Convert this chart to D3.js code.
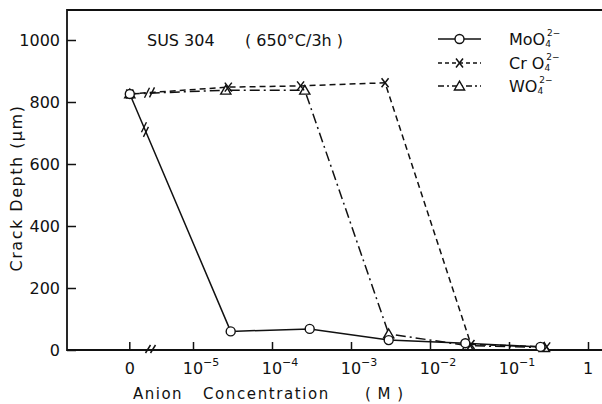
<!DOCTYPE html>
<html>
<head>
<meta charset="utf-8">
<script src="https://cdn.jsdelivr.net/npm/d3@7"></script>
<style>
  body { margin: 0; background: #fff; }
  text { font-family: "DejaVu Sans", sans-serif; fill: #111; }
</style>
</head>
<body>
<script>
var width = 602,
    height = 404;

// data (0 = no anion added)
var moConc  = [0, 3e-5, 3e-4, 3e-3, 2.8e-2, 2.5e-1],
    moDepth = [826, 60, 68, 32, 22, 10];
var crConc  = [0, 2.8e-5, 2.3e-4, 2.7e-3, 3.3e-2, 3e-1],
    crDepth = [826, 848, 852, 862, 18, 10];
var wConc   = [0, 2.6e-5, 2.6e-4, 3e-3, 3e-2, 2.8e-1],
    wDepth  = [826, 838, 838, 52, 14, 8];

var yTicks = [0, 200, 400, 600, 800, 1000];
var xTicks = [1e-5, 1e-4, 1e-3, 1e-2, 1e-1, 1];
var xExps  = [-5, -4, -3, -2, -1, 0];

var x = d3.scaleLog().domain([1e-5, 1]).range([193, 588]),
    y = d3.scaleLinear().domain([0, 1000]).range([350, 40]);
var zeroPos = x(Math.pow(10, -5.8));
function px(c) { return c === 0 ? zeroPos : x(c); }

var svg = d3.select('body').append('svg')
    .attr('width', width)
    .attr('height', height);

// frame
svg.append('path')
    .attr('d', 'M602,10H67V350H602')
    .attr('fill', 'none')
    .attr('stroke', '#111')
    .attr('stroke-width', 1.8);

// y axis, ticks inside
var gy = svg.append('g')
    .attr('transform', 'translate(67,0)')
    .call(d3.axisLeft(y).tickValues(yTicks).tickFormat(d3.format('d'))
        .tickSizeInner(-9).tickSizeOuter(0).tickPadding(7));
gy.select('.domain').remove();
gy.selectAll('line').attr('stroke', '#111').attr('stroke-width', 1.5);
gy.selectAll('text').style('font-size', '16px').style('font-family', '"DejaVu Sans", sans-serif').attr('fill', '#111');

// x axis, ticks inside
var gx = svg.append('g')
    .attr('transform', 'translate(0,350)')
    .call(d3.axisBottom(x).tickValues(xTicks).tickSizeInner(-8).tickSizeOuter(0).tickFormat(''));
gx.select('.domain').remove();
gx.selectAll('line').attr('stroke', '#111').attr('stroke-width', 1.5);

svg.append('line')
    .attr('x1', zeroPos).attr('x2', zeroPos)
    .attr('y1', 350).attr('y2', 342)
    .attr('stroke', '#111').attr('stroke-width', 1.5);

svg.append('text')
    .attr('x', zeroPos).attr('y', 374)
    .attr('text-anchor', 'middle')
    .style('font-size', '16px')
    .text('0');

xTicks.forEach(function(v, i) {
    var t = svg.append('text')
        .attr('x', x(v) + (xExps[i] === 0 ? 0 : 8))
        .attr('y', 374)
        .attr('text-anchor', 'middle')
        .style('font-size', '16px');
    if (xExps[i] === 0) { t.text('1'); return; }
    t.append('tspan').text('10');
    t.append('tspan').attr('dy', -8).style('font-size', '11px').text('\u2212' + (-xExps[i]));
});

// axis break
[148, 153].forEach(function(bx) {
    svg.append('line')
        .attr('x1', bx - 2.5).attr('y1', 353)
        .attr('x2', bx + 2.5).attr('y2', 345)
        .attr('stroke', '#111').attr('stroke-width', 1.5);
});

var series = [
    {conc: moConc, depth: moDepth, dash: null, mark: 'circle', brk: 0.15},
    {conc: crConc, depth: crDepth, dash: '6,4', mark: 'x', brk: 0.2},
    {conc: wConc, depth: wDepth, dash: '10,4,2,4', mark: 'tri', brk: 0.2}
];

var line = d3.line()
    .x(function(d) { return px(d[0]); })
    .y(function(d) { return y(d[1]); });

series.forEach(function(s) {
    var pts = d3.zip(s.conc, s.depth);
    svg.append('path')
        .datum(pts)
        .attr('d', line)
        .attr('fill', 'none')
        .attr('stroke', '#111')
        .attr('stroke-width', 1.5)
        .attr('stroke-dasharray', s.dash);
});

// break marks on the first segments
series.slice(0, 2).forEach(function(s) {
    var x0 = px(s.conc[0]), y0 = y(s.depth[0]),
        x1 = px(s.conc[1]), y1 = y(s.depth[1]);
    var len = Math.hypot(x1 - x0, y1 - y0),
        ux = (x1 - x0) / len, uy = (y1 - y0) / len;
    var cx = x0 + s.brk * (x1 - x0), cy = y0 + s.brk * (y1 - y0);
    [-2.5, 2.5].forEach(function(o) {
        var mx = cx + o * ux, my = cy + o * uy;
        svg.append('line')
            .attr('x1', mx - 2.5).attr('y1', my + 5)
            .attr('x2', mx + 2.5).attr('y2', my - 5)
            .attr('stroke', '#111').attr('stroke-width', 1.4);
    });
});

function drawMark(g, kind, cx, cy) {
    if (kind === 'circle') {
        g.append('circle').attr('cx', cx).attr('cy', cy).attr('r', 4.5)
            .attr('fill', '#fff').attr('stroke', '#111').attr('stroke-width', 1.4);
    } else if (kind === 'x') {
        g.append('path')
            .attr('d', 'M' + (cx - 3.5) + ',' + (cy - 4.5) + 'L' + (cx + 3.5) + ',' + (cy + 4.5) +
                       'M' + (cx + 3.5) + ',' + (cy - 4.5) + 'L' + (cx - 3.5) + ',' + (cy + 4.5))
            .attr('stroke', '#111').attr('stroke-width', 1.5);
    } else {
        g.append('path')
            .attr('d', d3.symbol(d3.symbolTriangle, 45)())
            .attr('transform', 'translate(' + cx + ',' + (cy + 1) + ')')
            .attr('fill', '#fff').attr('stroke', '#111').attr('stroke-width', 1.4);
    }
}

var marks = svg.append('g');
[series[2], series[1], series[0]].forEach(function(s) {
    s.conc.forEach(function(c, i) {
        drawMark(marks, s.mark, px(c), y(s.depth[i]));
    });
});

// legend
var legNames = ['MoO', 'Cr O', 'WO'];
var legY = [39, 63, 86];
series.forEach(function(s, i) {
    var ly = legY[i];
    svg.append('line')
        .attr('x1', 438).attr('x2', 481)
        .attr('y1', ly).attr('y2', ly)
        .attr('stroke', '#111').attr('stroke-width', 1.5)
        .attr('stroke-dasharray', s.dash ? (s.dash === '6,4' ? '4,3' : '6,3,2,3') : null);
    drawMark(svg, s.mark, 459.5, ly);
    var t = svg.append('text')
        .attr('x', 509).attr('y', ly + 6)
        .style('font-size', '16px');
    t.append('tspan').text(legNames[i]);
    t.append('tspan').attr('dy', 2).style('font-size', '9px').text('4');
    t.append('tspan').attr('dx', -4).attr('dy', -11).style('font-size', '9px').text('2\u2212');
});

// titles
svg.append('text').attr('x', 147).attr('y', 46).style('font-size', '16px').text('SUS 304');
svg.append('text').attr('x', 245).attr('y', 46).style('font-size', '16px').text('( 650\u00b0C/3h )');

svg.append('text').attr('x', 133).attr('y', 399).style('font-size', '15px').style('letter-spacing', '1.5px').text('Anion');
svg.append('text').attr('x', 203).attr('y', 399).style('font-size', '15px').style('letter-spacing', '1.6px').text('Concentration');
svg.append('text').attr('x', 365).attr('y', 399).style('font-size', '15px').style('letter-spacing', '1px').text('(  M  )');

svg.append('text')
    .attr('transform', 'translate(22,188) rotate(-90)')
    .attr('text-anchor', 'middle')
    .style('font-size', '16px')
    .style('letter-spacing', '1.5px')
    .text('Crack  Depth (\u03bcm)');
</script>
</body>
</html>
